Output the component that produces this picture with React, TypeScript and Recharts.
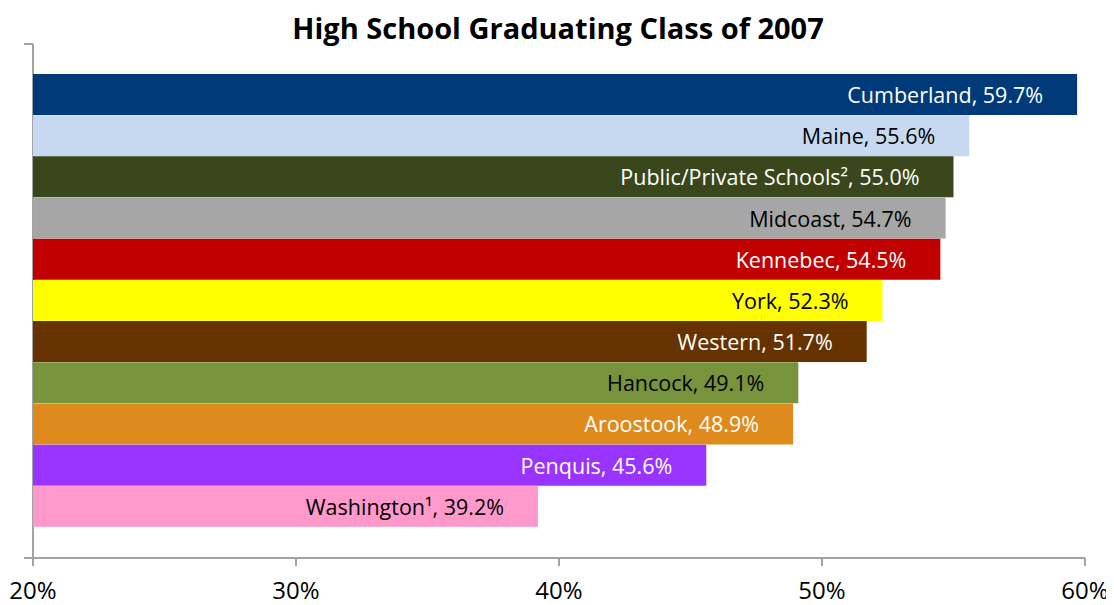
import { BarChart, Bar, XAxis, YAxis, Cell, LabelList } from "recharts";
import * as Recharts from "recharts";

const regions = [
  "Cumberland",
  "Maine",
  "Public/Private Schools²",
  "Midcoast",
  "Kennebec",
  "York",
  "Western",
  "Hancock",
  "Aroostook",
  "Penquis",
  "Washington¹",
];
const rates = [59.7, 55.6, 55.0, 54.7, 54.5, 52.3, 51.7, 49.1, 48.9, 45.6, 39.2];
const barColors = [
  "#003a78", "#c6d9f0", "#3a471d", "#a6a6a6", "#c00000", "#ffff00",
  "#663300", "#77933c", "#df8a1c", "#9933ff", "#ff99cc",
];
const labelColors = [
  "#ffffff", "#000000", "#ffffff", "#000000", "#ffffff", "#000000",
  "#ffffff", "#000000", "#ffffff", "#ffffff", "#000000",
];
const xTicks = [20, 30, 40, 50, 60];

const data = regions.map((region, i) => ({ region, rate: rates[i] }));

const FONT = "'Open Sans', sans-serif";
const AXIS = "#a3a3a3";

function BarLabel(props: any) {
  const { x, y, width, height, index } = props;
  return (
    <text
      x={x + width - 34}
      y={y + height / 2}
      textAnchor="end"
      dominantBaseline="central"
      fontFamily={FONT}
      fontSize={21.5}
      fill={labelColors[index]}
    >
      {`${regions[index]}, ${rates[index].toFixed(1)}%`}
    </text>
  );
}

// vertical value axis with the two end ticks, drawn from the plot area
function YFrame() {
  const hook = (Recharts as any).usePlotArea;
  const area = hook ? hook() : null;
  if (!area) return null;
  const { x, y, height } = area;
  return (
    <g stroke={AXIS} strokeWidth={2}>
      <line x1={x} y1={y} x2={x} y2={y + height} />
      <line x1={x - 9} y1={y} x2={x} y2={y} />
      <line x1={x - 9} y1={y + height} x2={x} y2={y + height} />
    </g>
  );
}

export default function App() {
  return (
    <div style={{ position: "relative", width: 1106, height: 597, fontFamily: FONT }}>
      <div
        style={{
          position: "absolute",
          top: 0,
          left: 0,
          width: 1100,
          textAlign: "center",
          fontWeight: 700,
          fontSize: 29,
          color: "#000",
        }}
      >
        High School Graduating Class of 2007
      </div>
      <BarChart
        width={1106}
        height={597}
        data={data}
        layout="vertical"
        margin={{ top: 36, right: 29, bottom: 11, left: 25 }}
        barCategoryGap={0}
      >
        <Bar dataKey="rate" isAnimationActive={false}>
          {data.map((d, i) => (
            <Cell key={d.region} fill={barColors[i]} />
          ))}
          <LabelList dataKey="rate" content={BarLabel} />
        </Bar>
        <XAxis
          type="number"
          domain={[20, 60]}
          ticks={xTicks}
          tickFormatter={(v) => `${v}%`}
          stroke={AXIS}
          strokeWidth={2}
          tickSize={8}
          tickMargin={16}
          height={36}
          tick={{ fill: "#000", fontSize: 24, fontFamily: FONT }}
          interval={0}
        />
        <YAxis type="category" dataKey="region" hide padding={{ top: 30, bottom: 31 }} />
        <YFrame />
      </BarChart>
    </div>
  );
}
